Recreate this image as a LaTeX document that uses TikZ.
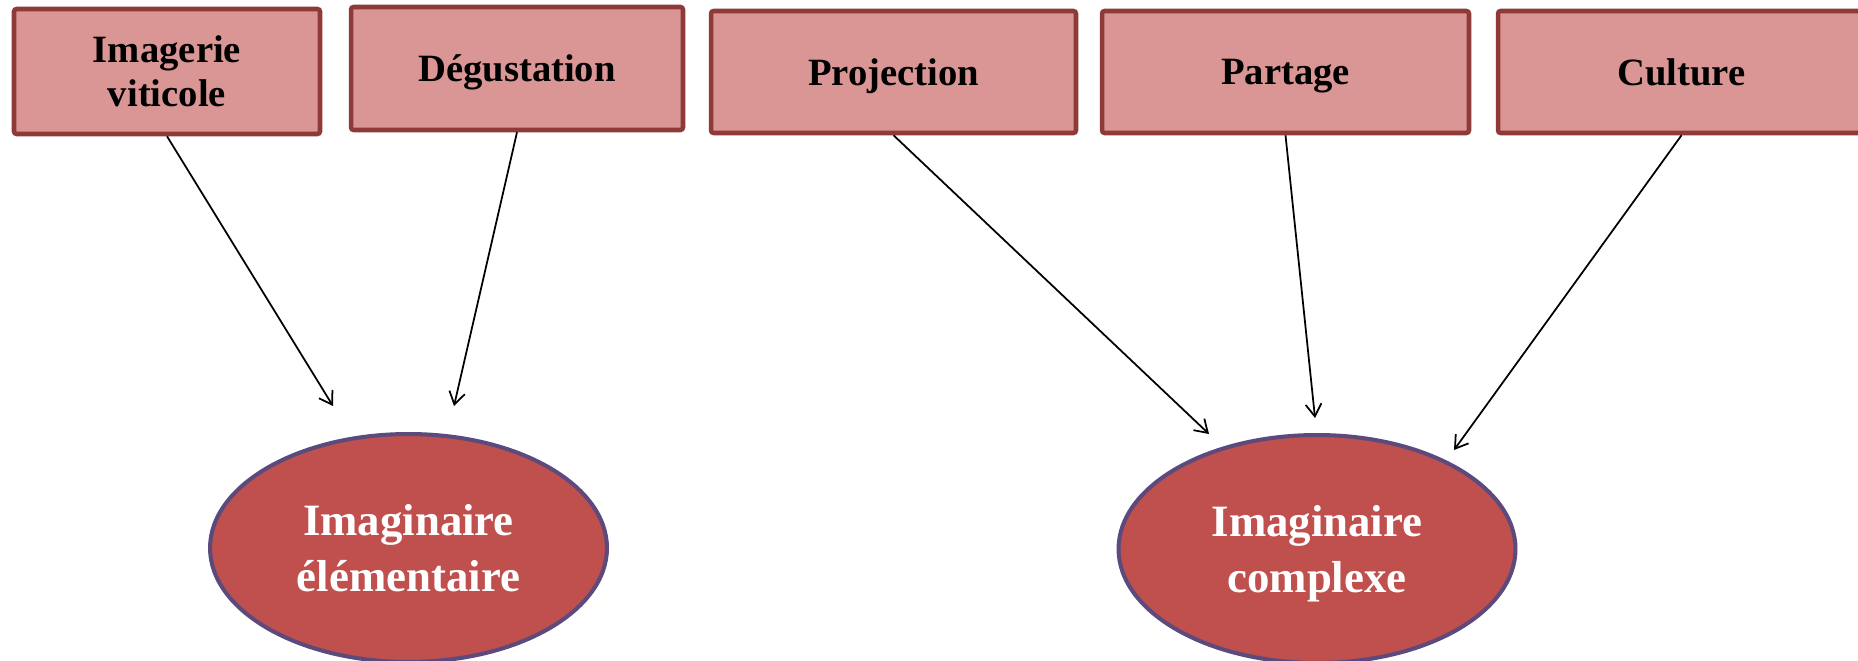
\documentclass[tikz,border=0pt]{standalone}
\usepackage{fontspec}
\setmainfont{Liberation Serif}
\usetikzlibrary{arrows.meta,shapes.geometric}

\definecolor{boxfill}{HTML}{D99694}
\definecolor{boxline}{HTML}{8E3A38}
\definecolor{imagfill}{HTML}{C0504D}
\definecolor{imagline}{HTML}{5C4A7C}

\begin{document}
\begin{tikzpicture}[>={Straight Barb[length=7pt,width=9pt]},x=0.02cm,y=-0.02cm,
    box/.style={draw=boxline,fill=boxfill,line width=2.6pt,rounded corners=1.5pt,
      align=center,minimum height=2.44cm,text depth=0pt,
      font=\fontsize{22}{25}\selectfont\bfseries},
    imag/.style={ellipse,draw=imagline,fill=imagfill,line width=2.3pt,
      minimum width=7.94cm,minimum height=4.56cm,align=center,text=white,
      text depth=0pt,font=\fontsize{25.5}{32}\selectfont\bfseries},
    link/.style={->,line width=1pt}]
                \useasboundingbox (0,0) rectangle (1858,661);

                % top boxes
                \node[box,minimum width=6.12cm,minimum height=2.5cm] (imagerie) at (167,71.5) {Imagerie\\viticole};
                \node[box,minimum width=6.64cm,minimum height=2.46cm] (degust) at (517,68.5) {Dégustation};
                \node[box,minimum width=7.3cm] (project) at (893.5,72) {Projection};
                \node[box,minimum width=7.34cm] (partage) at (1285.5,72) {Partage};
                \node[box,minimum width=7.34cm] (culture) at (1681.5,72) {Culture};

                % the two imaginaires
                \node[imag] (elem) at (408.5,548) {Imaginaire\\élémentaire};
                \node[imag] (complexe) at (1317,549) {Imaginaire\\complexe};

                \coordinate (E1) at (333,406);
                \coordinate (E2) at (454,406);
                \coordinate (C1) at (1209,434);
                \coordinate (C2) at (1315,418);
                \coordinate (C3) at (1454,450);

                \draw[link] (imagerie.south) -- (E1);
                \draw[link] (degust.south) -- (E2);
                \draw[link] (project.south) -- (C1);
                \draw[link] (partage.south) -- (C2);
                \draw[link] (culture.south) -- (C3);
            \end{tikzpicture}
\end{document}
